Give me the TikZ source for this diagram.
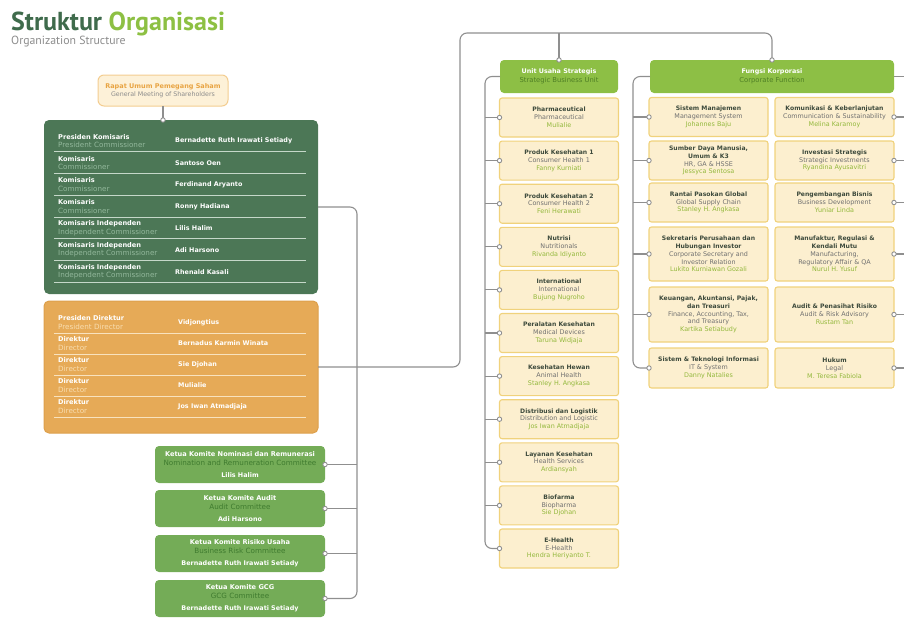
\documentclass[tikz,border=0pt]{standalone}
\usepackage{fontspec}
\setmainfont{DejaVu Sans}
\newfontfamily\titlefont{PT Sans}
\definecolor{tgreen}{HTML}{3F6B4C}
\definecolor{lgreen}{HTML}{8DC043}
\definecolor{ttgray}{HTML}{8C8C8C}
\definecolor{bocf}{HTML}{4C7756}
\definecolor{bocsub}{HTML}{93B89C}
\definecolor{bocsep}{HTML}{C5D8C9}
\definecolor{bodf}{HTML}{E6AA57}
\definecolor{bodb}{HTML}{DDA04C}
\definecolor{bodsub}{HTML}{F8DDB0}
\definecolor{bodsep}{HTML}{F8E2BE}
\definecolor{comf}{HTML}{74AC57}
\definecolor{comsub}{HTML}{3F7B2F}
\definecolor{hdrf}{HTML}{8DBF45}
\definecolor{hdrsub}{HTML}{4F7F25}
\definecolor{crf}{HTML}{FCEFCF}
\definecolor{crb}{HTML}{F0D27C}
\definecolor{crt}{HTML}{3D4A3C}
\definecolor{crs}{HTML}{707070}
\definecolor{crn}{HTML}{93B83C}
\definecolor{rupsf}{HTML}{FDF1D8}
\definecolor{rupsb}{HTML}{F3CD90}
\definecolor{rupst}{HTML}{E8A443}
\definecolor{lineg}{HTML}{8F8F8F}
\newcommand\Tt{\bfseries\fontsize{6.1}{7.8}\selectfont\color{crt}}
\newcommand\Ts{\mdseries\fontsize{6.4}{7.8}\selectfont\color{crs}}
\newcommand\Tn{\mdseries\fontsize{6.4}{7.8}\selectfont\color{crn}}
\newcommand\cbx[3]{\Tt #1\\\Ts #2\\\Tn #3}
\newcommand\Bb{\bfseries\fontsize{6.6}{8.5}\selectfont}
\newcommand\Br{\mdseries\fontsize{7.2}{8.5}\selectfont}
\newcommand\pdot[1]{\draw[line width=0.9pt,draw=lineg,fill=white] (#1) circle (2.2pt);}
\begin{document}
\begin{tikzpicture}[x=1pt,y=-1pt,
  conn/.style={draw=lineg,line width=1.1pt},
  rlab/.style={anchor=west,inner sep=0pt,align=left,font=\fontsize{7}{8.4}\selectfont},
  rname/.style={anchor=west,inner sep=0pt,font=\bfseries\fontsize{6.4}{8.5}\selectfont,text=white},
  combox/.style={fill=comf,rounded corners=4pt,minimum width=170pt,minimum height=37pt,inner sep=0pt,outer sep=0pt,align=center,font=\fontsize{7}{9}\selectfont},
  hdr/.style={fill=hdrf,rounded corners=4pt,minimum height=33pt,inner sep=0pt,outer sep=0pt,align=center,font=\fontsize{7}{9}\selectfont},
  cream/.style={draw=crb,line width=1.1pt,fill=crf,rounded corners=2.5pt,minimum width=119pt,minimum height=39pt,inner sep=0pt,outer sep=0pt,align=center,font=\fontsize{6.4}{7.8}\selectfont}]
\useasboundingbox (0,0) rectangle (904,619);
% title
\node[anchor=base west,inner sep=0pt,font=\titlefont\bfseries\fontsize{26}{28}\selectfont] (title) at (11,30) {\color{tgreen}Struktur \color{lgreen}Organisasi};
\node[anchor=base west,inner sep=0pt,font=\titlefont\fontsize{11.8}{13}\selectfont,text=ttgray] (subtitle) at (11,44) {Organization Structure};
% named coordinates
\coordinate (cvx) at (357,0);
\coordinate (tl) at (460,33);
\coordinate (sx) at (485,0);
\coordinate (fx) at (633,0);
\coordinate (redge) at (904,0);
% RUPS
\node[draw=rupsb,line width=1pt,fill=rupsf,rounded corners=6pt,minimum width=130pt,minimum height=31pt,inner sep=0pt,outer sep=0pt,align=center,font=\fontsize{6.6}{8.2}\selectfont] (rups) at (163,90.5) {{\bfseries\fontsize{6.5}{8}\selectfont\color{rupst}Rapat Umum Pemegang Saham}\\{\fontsize{6.3}{8}\selectfont\color{ttgray}General Meeting of Shareholders}};
% boards
\node[fill=bocf,rounded corners=5pt,minimum width=274pt,minimum height=174pt,inner sep=0pt,outer sep=0pt] (boc) at (181,207) {};
\node[fill=bodf,draw=bodb,line width=1pt,rounded corners=5pt,minimum width=274pt,minimum height=132pt,inner sep=0pt,outer sep=0pt] (bod) at (181,367) {};
\foreach \i/\lab/\sub/\nm in {1/Presiden Komisaris/President Commissioner/Bernadette Ruth Irawati Setiady,
  2/Komisaris/Commissioner/Santoso Oen,
  3/Komisaris/Commissioner/Ferdinand Aryanto,
  4/Komisaris/Commissioner/Ronny Hadiana,
  5/Komisaris Independen/Independent Commissioner/Lilis Halim,
  6/Komisaris Independen/Independent Commissioner/Adi Harsono,
  7/Komisaris Independen/Independent Commissioner/Rhenald Kasali}{
  \pgfmathsetmacro\yy{141+21.8*(\i-1)}
  \node[rlab] (bocl\i) at (58,\yy) {{\Bb\color{white}\lab}\\{\Br\color{bocsub}\sub}};
  \node[rname] (bocn\i) at (175,\yy) {\nm};
  \draw[draw=bocsep,line width=0.8pt] (54,\yy+10.5) -- (306,\yy+10.5);
}
\foreach \i/\lab/\sub/\nm in {1/Presiden Direktur/President Director/Vidjongtius,
  2/Direktur/Director/Bernadus Karmin Winata,
  3/Direktur/Director/Sie Djohan,
  4/Direktur/Director/Mulialie,
  5/Direktur/Director/Jos Iwan Atmadjaja}{
  \pgfmathsetmacro\yy{322.5+21*(\i-1)}
  \node[rlab] (bodl\i) at (58,\yy) {{\Bb\color{white}\lab}\\{\Br\color{bodsub}\sub}};
  \node[rname] (bodn\i) at (178,\yy) {\nm};
  \draw[draw=bodsep,line width=0.8pt] (54,\yy+10.5) -- (306,\yy+10.5);
}
% committees
\foreach \i/\yy/\a/\b/\c in {1/464.5/Ketua Komite Nominasi dan Remunerasi/Nomination and Remuneration Committee/Lilis Halim,
  2/508.5/Ketua Komite Audit/Audit Committee/Adi Harsono,
  3/553.5/Ketua Komite Risiko Usaha/Business Risk Committee/Bernadette Ruth Irawati Setiady,
  4/598.5/Ketua Komite GCG/GCG Committee/Bernadette Ruth Irawati Setiady}{
  \node[combox] (com\i) at (240,\yy) {{\bfseries\fontsize{6.6}{9}\selectfont\color{white}\a}\\{\fontsize{7.2}{9}\selectfont\color{comsub}\b}\\[3pt]{\bfseries\fontsize{6.4}{9}\selectfont\color{white}\c}};
}
% headers
\node[hdr,minimum width=118pt] (sbu) at (559,76.5) {{\bfseries\fontsize{6.4}{9}\selectfont\color{white}Unit Usaha Strategis}\\{\fontsize{6.8}{9}\selectfont\color{hdrsub}Strategic Business Unit}};
\node[hdr,minimum width=244pt] (fk) at (772,76.5) {{\bfseries\fontsize{6.4}{9}\selectfont\color{white}Fungsi Korporasi}\\{\fontsize{6.8}{9}\selectfont\color{hdrsub}Corporate Function}};
% business units
\foreach \i/\a/\b/\c in {1/Pharmaceutical/Pharmaceutical/Mulialie,
  2/Produk Kesehatan 1/Consumer Health 1/Fanny Kurniati,
  3/Produk Kesehatan 2/Consumer Health 2/Feni Herawati,
  4/Nutrisi/Nutritionals/Rivanda Idiyanto,
  5/International/International/Bujung Nugroho,
  6/Peralatan Kesehatan/Medical Devices/Taruna Widjaja,
  7/Kesehatan Hewan/Animal Health/Stanley H. Angkasa,
  8/Distribusi dan Logistik/Distribution and Logistic/Jos Iwan Atmadjaja,
  9/Layanan Kesehatan/Health Services/Ardiansyah,
  10/Biofarma/Biopharma/Sie Djohan,
  11/E-Health/E-Health/Hendra Heriyanto T.}{
  \pgfmathsetmacro\yy{117.5+43.1*(\i-1)}
  \node[cream] (bu\i) at (559,\yy) {\cbx{\a}{\b}{\c}};
}
% corporate functions
\node[cream] (cf1L) at (708.5,117) {\cbx{Sistem Manajemen}{Management System}{Johannes Baju}};
\node[cream] (cf1R) at (834.5,117) {\cbx{Komunikasi \& Keberlanjutan}{Communication \& Sustainability}{Melina Karamoy}};
\node[cream] (cf2L) at (708.5,160.5) {\Tt Sumber Daya Manusia,\\\Tt Umum \& K3\\\Ts HR, GA \& HSSE\\\Tn Jessyca Sentosa};
\node[cream] (cf2R) at (834.5,160.5) {\cbx{Investasi Strategis}{Strategic Investments}{Ryandina Ayusavitri}};
\node[cream] (cf3L) at (708.5,202.5) {\cbx{Rantai Pasokan Global}{Global Supply Chain}{Stanley H. Angkasa}};
\node[cream] (cf3R) at (834.5,202.5) {\cbx{Pengembangan Bisnis}{Business Development}{Yuniar Linda}};
\node[cream,minimum height=54pt] (cf4L) at (708.5,254) {\Tt Sekretaris Perusahaan dan\\\Tt Hubungan Investor\\\Ts Corporate Secretary and\\\Ts Investor Relation\\\Tn Lukito Kurniawan Gozali};
\node[cream,minimum height=54pt] (cf4R) at (834.5,254) {\Tt Manufaktur, Regulasi \&\\\Tt Kendali Mutu\\\Ts Manufacturing,\\\Ts Regulatory Affair \& QA\\\Tn Nurul H. Yusuf};
\node[cream,minimum height=55pt] (cf5L) at (708.5,314.5) {\Tt Keuangan, Akuntansi, Pajak,\\\Tt dan Treasuri\\\Ts Finance, Accounting, Tax,\\\Ts and Treasury\\\Tn Kartika Setiabudy};
\node[cream,minimum height=55pt] (cf5R) at (834.5,314.5) {\cbx{Audit \& Penasihat Risiko}{Audit \& Risk Advisory}{Rustam Tan}};
\node[cream,minimum height=40pt] (cf6L) at (708.5,368) {\cbx{Sistem \& Teknologi Informasi}{IT \& System}{Danny Natalies}};
\node[cream,minimum height=40pt] (cf6R) at (834.5,368) {\cbx{Hukum}{Legal}{M. Teresa Fabiola}};
% connectors
\draw[conn] (rups.south) -- (rups.south |- boc.north);
\draw[conn,rounded corners=7pt] (boc.east) -| (com4.east -| cvx) -- (com4.east);
\foreach \i in {1,2,3}{\draw[conn] (com\i.east -| cvx) -- (com\i.east);}
\draw[conn,rounded corners=7pt] (bod.east) -| (tl) -| (fk.north);
\draw[conn] (sbu.north |- tl) -- (sbu.north);
\draw[conn,rounded corners=7pt] (sbu.west) -| (bu11.west -| sx) -- (bu11.west);
\foreach \i in {1,...,10}{\draw[conn] (bu\i.west -| sx) -- (bu\i.west);}
\draw[conn,rounded corners=7pt] (fk.west) -| (cf6L.west -| fx) -- (cf6L.west);
\foreach \i in {1,...,5}{\draw[conn] (cf\i L.west -| fx) -- (cf\i L.west);}
\draw[conn] (fk.east) -- (fk.east -| redge);
\foreach \i in {1,...,6}{\draw[conn] (cf\i R.east) -- (cf\i R.east -| redge);}
% dots
\pdot{rups.south |- boc.north}
\foreach \i in {1,...,4}{\pdot{com\i.east}}
\pdot{sbu.north}
\pdot{fk.north}
\foreach \i in {1,...,11}{\pdot{bu\i.west}}
\foreach \i in {1,...,6}{\pdot{cf\i L.west}\pdot{cf\i R.east}}
\end{tikzpicture}
\end{document}
